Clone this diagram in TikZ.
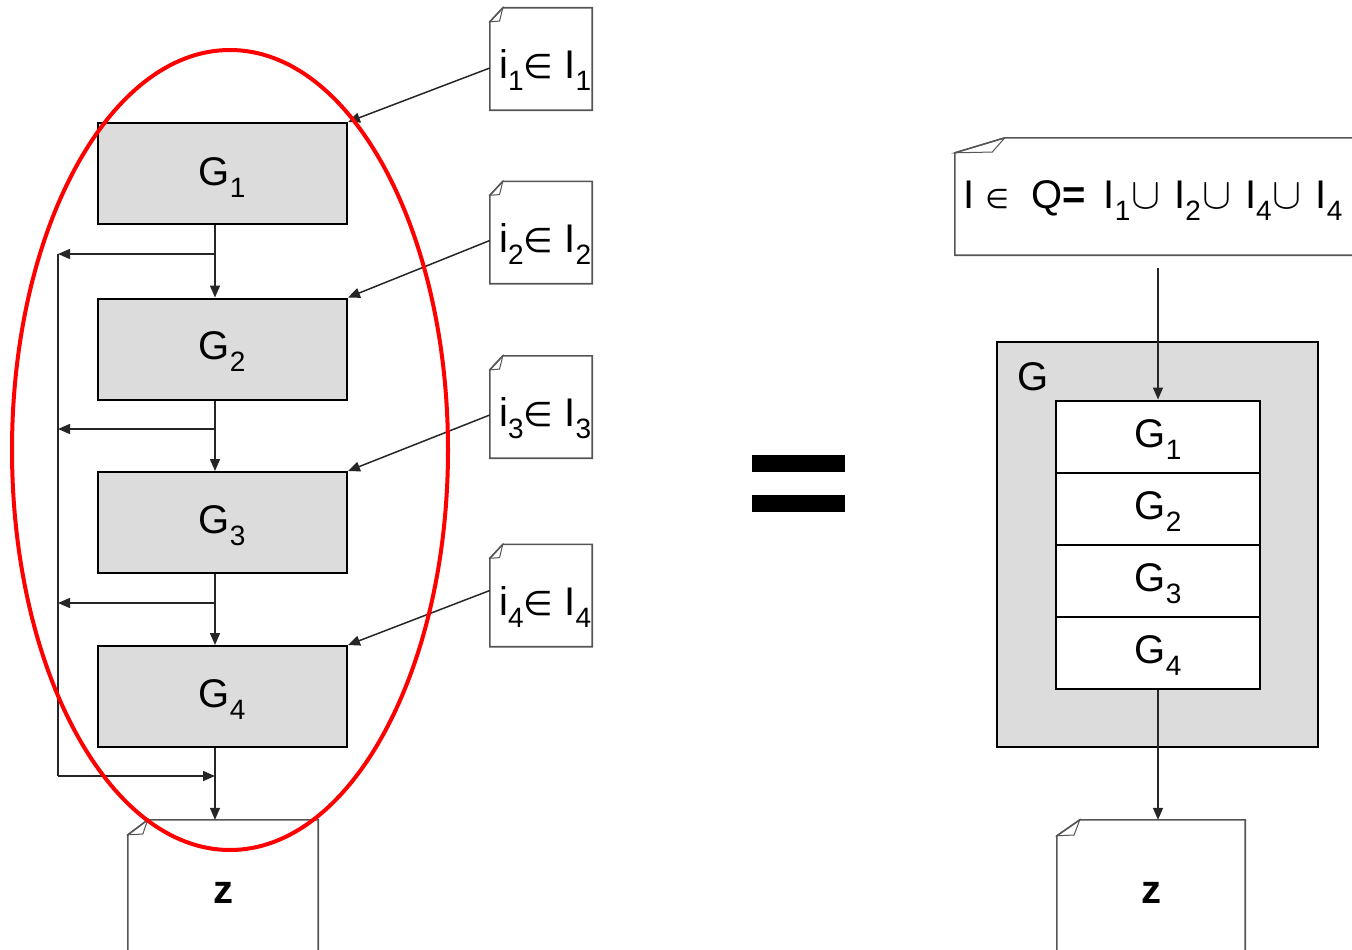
\documentclass[tikz,border=0pt]{standalone}
\usepackage{fontspec}
\usepackage{graphicx}
\setmainfont{Liberation Sans}
\newfontfamily\symfont{DejaVu Sans}
\usetikzlibrary{arrows.meta,calc}

% subscript digit and set symbols
\newcommand\subtx[1]{\raisebox{-0.3em}{\fontsize{28}{30}\selectfont #1}}
\newcommand\elemsym{{\symfont\fontsize{34}{36}\selectfont ∈}}
\newcommand\smallelem{{\symfont\fontsize{27}{30}\selectfont ∈}}
\newcommand\unionsym{\kern1pt\resizebox{29pt}{!}{$\cup$}\kern14pt}

% document frame with a folded top-left corner: node, fold width, fold height
\newcommand\docframe[3]{%
  \draw[docline] ($(#1.north west)+(0,#3)$) -- ($(#1.north west)+(#2,0)$)
     -- (#1.north east) -- (#1.south east) -- (#1.south west) -- cycle;
  \draw[docline, line width=1pt] ($(#1.north west)+(0,#3)$) -- ($(#1.north west)+(#2,0)$)
     -- ($(#1.north west)+(0.75*#2,0.95*#3)$) -- cycle;}

\definecolor{boxgray}{HTML}{DCDCDC}
\definecolor{docgray}{HTML}{555555}

\begin{document}
\begin{tikzpicture}[x=1pt, y=-1pt,
  font=\fontsize{40}{48}\selectfont,
  gbox/.style={draw=black, line width=2pt, fill=boxgray, minimum width=249pt,
               minimum height=101pt, inner sep=0pt},
  stackbox/.style={draw=black, line width=2pt, fill=white, minimum width=204pt,
               minimum height=72pt, inner sep=0pt},
  docbox/.style={draw=none, inner sep=0pt},
  docline/.style={draw=docgray, line width=1.6pt, line join=miter},
  wire/.style={draw=black!85, line width=1.5pt},
  flow/.style={wire, -{Triangle[length=12pt,width=10pt]}},
  txt/.style={inner sep=0pt, anchor=base west}]

\useasboundingbox (0,0) rectangle (1352,950);

% ---------------- left: chain of four stages ----------------
\node[gbox] (g1) at (222.5,173.5) {};
\node[gbox] (g2) at (222.5,349) {};
\node[gbox] (g3) at (222.5,522.5) {};
\node[gbox] (g4) at (222.5,696.5) {};
\node[inner sep=0pt] (g1t) at (222,178) {G\subtx{1}};
\node[inner sep=0pt] (g2t) at (222,352) {G\subtx{2}};
\node[inner sep=0pt] (g3t) at (222,526) {G\subtx{3}};
\node[inner sep=0pt] (g4t) at (222,700) {G\subtx{4}};

% output document on the left
\node[docbox, minimum width=190pt, minimum height=180pt] (zl) at (223,910) {};
\docframe{zl}{20}{15}
\node[inner sep=0pt] (zlt) at (223,893) {\bfseries z};

% input documents
\foreach \k/\yc in {1/59, 2/232.5, 3/407, 4/595.5}{
  \node[docbox, minimum width=102pt, minimum height=102pt] (i\k) at (541,\yc) {};
  \docframe{i\k}{13}{14}
}
\node[txt] (i1t) at (499,78) {i\subtx{1}\elemsym\ I\subtx{1}};
\node[txt] (i2t) at (499,252) {i\subtx{2}\elemsym\ I\subtx{2}};
\node[txt] (i3t) at (499,426) {i\subtx{3}\elemsym\ I\subtx{3}};
\node[txt] (i4t) at (499,615) {i\subtx{4}\elemsym\ I\subtx{4}};

% spine, branch points and the left rail
\coordinate (sp) at (215,0);
\coordinate (rail) at (58,0);
\coordinate (b1) at (215,254);
\coordinate (b2) at (215,429);
\coordinate (b3) at (215,603);
\coordinate (j) at (215,776);

\draw[flow] (g1.south -| sp) -- (g2.north -| sp);
\draw[flow] (g2.south -| sp) -- (g3.north -| sp);
\draw[flow] (g3.south -| sp) -- (g4.north -| sp);
\draw[flow] (g4.south -| sp) -- (zl.north -| sp);

\draw[flow] (b1) -- (b1 -| rail);
\draw[flow] (b2) -- (b2 -| rail);
\draw[flow] (b3) -- (b3 -| rail);
\draw[wire] (b1 -| rail) -- (j -| rail);
\draw[flow] (j -| rail) -- (j);

% inputs feeding each stage
\draw[flow] ([yshift=-9pt]i1.west) -- (g1.north east);
\draw[flow] ([yshift=-8pt]i2.west) -- (g2.north east);
\draw[flow] ([yshift=-8pt]i3.west) -- (g3.north east);
\draw[flow] ([yshift=5pt]i4.west) -- (g4.north east);

% red outline around the chain
\draw[red, line width=4pt] (230,450) ellipse [x radius=218, y radius=400];

% ---------------- equals sign ----------------
\fill (752,455) rectangle (845,472);
\fill (752,495) rectangle (845,512);

% ---------------- right: composed stage ----------------
\node[docbox, minimum width=470pt, minimum height=117pt] (q) at (1190,196.5) {};
\docframe{q}{50}{15}
\node[txt] (qt) at (963,208) {I \smallelem\ \ Q{\bfseries =}\kern18pt I\subtx{1}\unionsym I\subtx{2}\unionsym I\subtx{4}\unionsym I\subtx{4}};

\node[draw=black, line width=1.5pt, fill=boxgray, minimum width=321pt,
      minimum height=405pt, inner sep=0pt] (gouter) at (1157.5,544.5) {};
\node[inner sep=0pt, anchor=base west] (glabel) at (1017,390) {G};

\node[stackbox] (r1) at (1158,436.5) {};
\node[stackbox] (r2) at (1158,509) {};
\node[stackbox] (r3) at (1158,581) {};
\node[stackbox] (r4) at (1158,653) {};
\node[inner sep=0pt] (r1t) at (1158,440) {G\subtx{1}};
\node[inner sep=0pt] (r2t) at (1158,512) {G\subtx{2}};
\node[inner sep=0pt] (r3t) at (1158,584) {G\subtx{3}};
\node[inner sep=0pt] (r4t) at (1158,656) {G\subtx{4}};

\node[docbox, minimum width=188pt, minimum height=180pt] (zr) at (1151,910) {};
\docframe{zr}{23}{16}
\node[inner sep=0pt] (zrt) at (1151,893) {\bfseries z};

\coordinate (qsrc) at (1158,268);
\draw[flow] (qsrc) -- (r1.north);
\draw[flow] (r4.south) -- (r4.south |- zr.north);

\end{tikzpicture}
\end{document}
